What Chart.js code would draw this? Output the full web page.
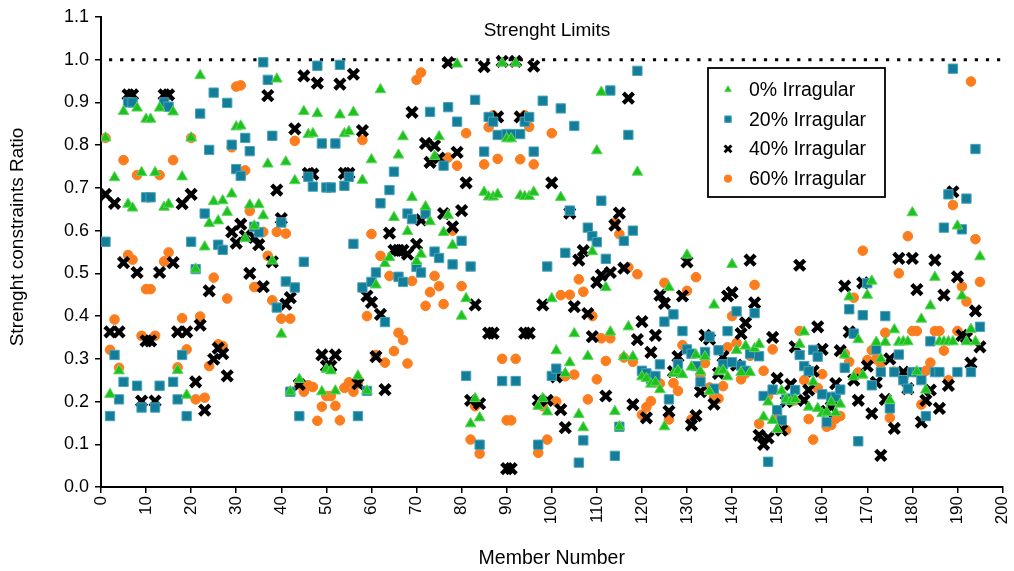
<!DOCTYPE html>
<html><head><meta charset="utf-8">
<script src="https://cdn.jsdelivr.net/npm/chart.js@4/dist/chart.umd.min.js"></script>
<style>html,body{margin:0;padding:0;background:#fff;}#wrap{width:1014px;height:571px;}</style>
</head><body><div id="wrap"><canvas id="c" width="1014" height="571"></canvas></div>
<script>
// ---- data ----
const seriesNames = ['0% Irragular', '20% Irragular', '40% Irragular', '60% Irragular'];
const xAxisTitle = 'Member Number';
const yAxisTitle = 'Strenght constraints Ratio';
const limitLabel = 'Strenght Limits';
const limitValue = 1.0;
const xTickStep = 10;
const xRange = [0, 200];
const yTickStep = 0.1;
const yRange = [0, 1.1];

const green = [
0.817,0.217,0.724,0.272,0.879,0.662,0.653,0.887,0.736,0.861,
0.861,0.736,0.887,0.655,0.662,0.878,0.273,0.726,0.215,0.817,
0.51,0.963,0.562,0.617,0.668,0.623,0.67,0.643,0.686,0.843,
0.845,0.582,0.66,0.611,0.661,0.635,0.756,0.529,0.955,0.358,
0.761,0.223,0.717,0.252,0.879,0.825,0.827,0.874,0.223,0.276,
0.272,0.225,0.871,0.827,0.832,0.877,0.26,0.718,0.225,0.766,
0.473,0.93,0.523,0.537,0.631,0.777,0.82,0.598,0.678,0.528,
0.545,0.656,0.621,0.774,0.82,0.596,0.636,0.566,0.99,0.40,
0.441,0.148,0.207,0.162,0.69,0.679,0.679,0.685,0.992,0.815,
0.815,0.992,0.682,0.68,0.68,0.69,0.189,0.207,0.176,0.441,
0.319,0.678,0.266,0.291,0.359,0.17,0.139,0.306,0.551,0.787,
0.924,0.467,0.363,0.177,0.141,0.305,0.375,0.305,0.737,0.258,
0.254,0.241,0.245,0.228,0.141,0.467,0.266,0.272,0.263,0.543,
0.281,0.309,0.27,0.305,0.224,0.426,0.27,0.273,0.258,0.521,
0.32,0.268,0.33,0.268,0.324,0.334,0.164,0.199,0.156,0.135,
0.225,0.205,0.2,0.205,0.334,0.363,0.187,0.246,0.184,0.172,
0.175,0.199,0.174,0.194,0.309,0.445,0.258,0.345,0.262,0.449,
0.482,0.339,0.30,0.339,0.203,0.368,0.339,0.34,0.34,0.642,
0.27,0.393,0.227,0.424,0.491,0.34,0.34,0.34,0.34,0.611,
0.447,0.34,0.369,0.34,0.539
];
const teal = [
0.574,0.166,0.309,0.205,0.246,0.90,0.90,0.237,0.186,0.678,
0.678,0.186,0.237,0.90,0.89,0.246,0.205,0.309,0.166,0.574,
0.51,0.874,0.64,0.789,0.923,0.567,0.555,0.899,0.801,0.744,
0.728,0.817,0.786,0.609,0.596,0.994,0.953,0.822,0.42,0.619,
0.481,0.223,0.467,0.166,0.527,0.726,0.703,0.986,0.804,0.701,
0.701,0.804,0.988,0.705,0.726,0.569,0.166,0.467,0.225,0.48,
0.502,0.664,0.386,0.695,0.738,0.492,0.48,0.64,0.627,0.515,
0.502,0.64,0.878,0.551,0.536,0.752,0.889,0.521,0.855,0.576,
0.26,0.516,0.906,0.099,0.785,0.866,0.855,0.824,0.248,0.826,
0.826,0.248,0.826,0.855,0.866,0.785,0.099,0.904,0.516,0.26,
0.277,0.886,0.548,0.647,0.845,0.057,0.109,0.607,0.587,0.573,
0.67,0.534,0.928,0.073,0.141,0.576,0.824,0.60,0.974,0.272,
0.266,0.253,0.26,0.287,0.387,0.205,0.404,0.287,0.365,0.322,
0.312,0.283,0.246,0.316,0.352,0.23,0.32,0.287,0.365,0.292,
0.411,0.284,0.272,0.312,0.407,0.306,0.213,0.059,0.228,0.18,
0.156,0.205,0.207,0.227,0.309,0.283,0.271,0.321,0.305,0.217,
0.152,0.211,0.211,0.228,0.279,0.416,0.359,0.107,0.402,0.477,
0.238,0.322,0.269,0.40,0.184,0.269,0.31,0.25,0.23,0.269,
0.269,0.25,0.166,0.341,0.269,0.269,0.607,0.685,0.979,0.269,
0.603,0.675,0.269,0.791,0.375
];
const black = [
0.685,0.363,0.664,0.363,0.525,0.918,0.918,0.502,0.201,0.342,
0.342,0.201,0.502,0.918,0.918,0.525,0.363,0.663,0.363,0.685,
0.246,0.379,0.18,0.459,0.299,0.325,0.312,0.26,0.597,0.571,
0.615,0.588,0.50,0.584,0.567,0.469,0.916,0.527,0.695,0.628,
0.428,0.443,0.838,0.24,0.962,0.734,0.732,0.945,0.309,0.283,
0.283,0.309,0.943,0.734,0.734,0.966,0.242,0.834,0.447,0.432,
0.305,0.404,0.228,0.594,0.554,0.554,0.554,0.545,0.877,0.568,
0.625,0.804,0.76,0.799,0.77,0.64,0.993,0.609,0.783,0.647,
0.712,0.203,0.426,0.195,0.984,0.36,0.36,0.866,0.996,0.043,
0.043,0.996,0.866,0.36,0.36,0.985,0.203,0.426,0.203,0.712,
0.258,0.181,0.139,0.641,0.422,0.531,0.553,0.406,0.352,0.479,
0.496,0.213,0.502,0.613,0.641,0.512,0.91,0.193,0.345,0.387,
0.162,0.315,0.355,0.449,0.43,0.177,0.27,0.305,0.447,0.527,
0.145,0.167,0.223,0.355,0.346,0.194,0.266,0.305,0.447,0.455,
0.285,0.359,0.384,0.531,0.431,0.121,0.1,0.115,0.35,0.254,
0.133,0.2,0.24,0.328,0.519,0.203,0.227,0.271,0.375,0.322,
0.177,0.187,0.242,0.319,0.47,0.363,0.25,0.203,0.478,0.283,
0.172,0.245,0.074,0.205,0.3,0.137,0.535,0.269,0.23,0.535,
0.462,0.152,0.203,0.227,0.531,0.184,0.449,0.238,0.691,0.492,
0.355,0.35,0.29,0.412,0.328
];
const orange = [
0.817,0.321,0.392,0.279,0.765,0.543,0.532,0.73,0.354,0.463,
0.463,0.354,0.73,0.528,0.549,0.765,0.28,0.395,0.322,0.817,
0.205,0.399,0.209,0.283,0.49,0.334,0.33,0.441,0.795,0.937,
0.94,0.741,0.646,0.468,0.468,0.597,0.541,0.437,0.597,0.394,
0.593,0.394,0.81,0.24,0.223,0.238,0.234,0.155,0.188,0.213,
0.213,0.19,0.156,0.232,0.245,0.223,0.242,0.812,0.40,0.592,
0.309,0.541,0.291,0.494,0.318,0.361,0.344,0.289,0.482,0.953,
0.97,0.424,0.456,0.494,0.47,0.428,0.771,0.60,0.752,0.47,
0.828,0.111,0.189,0.078,0.755,0.842,0.87,0.768,0.30,0.156,
0.156,0.30,0.767,0.87,0.843,0.755,0.08,0.189,0.111,0.828,
0.2,0.449,0.259,0.45,0.263,0.486,0.457,0.205,0.40,0.252,
0.348,0.295,0.348,0.619,0.592,0.303,0.514,0.293,0.498,0.169,
0.187,0.201,0.245,0.242,0.478,0.158,0.243,0.225,0.332,0.459,
0.158,0.491,0.263,0.29,0.233,0.211,0.207,0.236,0.327,0.40,
0.337,0.252,0.266,0.307,0.473,0.148,0.272,0.213,0.322,0.166,
0.15,0.133,0.2,0.203,0.365,0.25,0.159,0.111,0.232,0.264,
0.141,0.145,0.16,0.166,0.312,0.293,0.443,0.268,0.553,0.297,
0.32,0.299,0.289,0.361,0.162,0.27,0.50,0.258,0.587,0.365,
0.365,0.193,0.272,0.291,0.365,0.365,0.319,0.25,0.66,0.365,
0.469,0.434,0.949,0.58,0.48
];
// member numbers 1..N (categories)
const members = green.map((_, i) => i + 1);

// ---- build chart ----
const FONT = '"Liberation Sans", Arial, sans-serif';
const toPts = arr => arr.map((v, i) => ({ x: members[i], y: v }));

const styles = [
  { pointStyle: 'triangle', radius: 6.2, bg: '#1ec21e', border: '#5fd65f', bw: 1, lr: 3.8, lbw: 1 },
  { pointStyle: 'rect', radius: 6.6, bg: '#137e99', border: '#4aa3b9', bw: 1, lr: 4.6, lbw: 1 },
  { pointStyle: 'crossRot', radius: 7.2, bg: '#000', border: '#000', bw: 4.3, lr: 4.8, lbw: 3 },
  { pointStyle: 'circle', radius: 4.8, bg: '#fb7d1d', border: '#fb7d1d', bw: 1, lr: 3.7, lbw: 1 }
];
const seriesData = [green, teal, black, orange];

const datasets = seriesData.map((arr, k) => ({
  label: seriesNames[k],
  data: toPts(arr),
  showLine: false,
  pointStyle: styles[k].pointStyle,
  pointRadius: styles[k].radius,
  pointBackgroundColor: styles[k].bg,
  pointBorderColor: styles[k].border,
  pointBorderWidth: styles[k].bw,
  pointHoverRadius: styles[k].radius
}));
datasets.push({
  label: limitLabel,
  type: 'line',
  data: [{ x: xRange[0], y: limitValue }, { x: xRange[1], y: limitValue }],
  borderColor: '#000',
  borderWidth: 3,
  borderDash: [3.2, 7.9],
  borderDashOffset: -8,
  pointRadius: 0,
  fill: false
});

const overlayPlugin = {
  id: 'overlay',
  afterDatasetsDraw(chart) {
    const ctx = chart.ctx;
    const ys = chart.scales.y;
    ctx.save();
    // limit label
    ctx.fillStyle = '#000';
    ctx.font = '19px ' + FONT;
    ctx.textAlign = 'center';
    ctx.textBaseline = 'middle';
    ctx.fillText(limitLabel, 547, ys.getPixelForValue(1.068));
    // y axis title
    ctx.save();
    ctx.translate(18, 237);
    ctx.rotate(-Math.PI / 2);
    ctx.font = '19px ' + FONT;
    ctx.fillText(yAxisTitle, 0, 0);
    ctx.restore();
    // legend box
    const L = 708, T = 68, W = 177, H = 129;
    ctx.fillStyle = '#fff';
    ctx.fillRect(L, T, W, H);
    ctx.strokeStyle = '#000';
    ctx.lineWidth = 1.8;
    ctx.strokeRect(L, T, W, H);
    seriesNames.forEach((name, k) => {
      const y = 89.5 + k * 29.7;
      ctx.save();
      ctx.fillStyle = styles[k].bg;
      ctx.strokeStyle = styles[k].border;
      ctx.lineWidth = styles[k].lbw;
      Chart.helpers.drawPoint(ctx, {
        pointStyle: styles[k].pointStyle, radius: styles[k].lr, rotation: 0,
        borderWidth: styles[k].lbw
      }, 728, y);
      ctx.restore();
      ctx.fillStyle = '#000';
      ctx.font = '19.5px ' + FONT;
      ctx.textAlign = 'left';
      ctx.textBaseline = 'middle';
      ctx.fillText(name, 749, y + 1);
    });
    ctx.restore();
  }
};

new Chart(document.getElementById('c'), {
  type: 'scatter',
  data: { datasets },
  options: {
    responsive: false,
    animation: false,
    devicePixelRatio: 1,
    layout: { padding: { top: 17, right: 8, left: 0, bottom: 0 } },
    plugins: {
      legend: { display: false },
      tooltip: { enabled: false },
      title: { display: false }
    },
    scales: {
      x: {
        type: 'linear',
        min: xRange[0], max: xRange[1],
        afterFit(s) { s.height = 84; s.paddingLeft = 0; s.paddingRight = 0; },
        grid: { drawOnChartArea: false, drawTicks: true, tickLength: 6, color: '#000', lineWidth: 1.5 },
        border: { display: true, color: '#000', width: 2 },
        ticks: {
          stepSize: xTickStep, minRotation: 90, maxRotation: 90, padding: 3,
          color: '#000', font: { family: FONT, size: 17 }
        },
        title: { display: true, text: xAxisTitle, color: '#000', font: { family: FONT, size: 19.5 }, padding: { top: 0, bottom: 1 } }
      },
      y: {
        type: 'linear',
        min: yRange[0], max: yRange[1],
        afterFit(s) { s.width = 101; s.paddingTop = 0; s.paddingBottom = 0; },
        grid: { drawOnChartArea: false, drawTicks: true, tickLength: 6, color: '#000', lineWidth: 1.5 },
        border: { display: true, color: '#000', width: 2 },
        ticks: {
          stepSize: yTickStep, padding: 6, color: '#000',
          font: { family: FONT, size: 18 },
          callback: v => Number(v).toFixed(1)
        },
        title: { display: false, text: yAxisTitle }
      }
    }
  },
  plugins: [overlayPlugin]
});
</script></body></html>
